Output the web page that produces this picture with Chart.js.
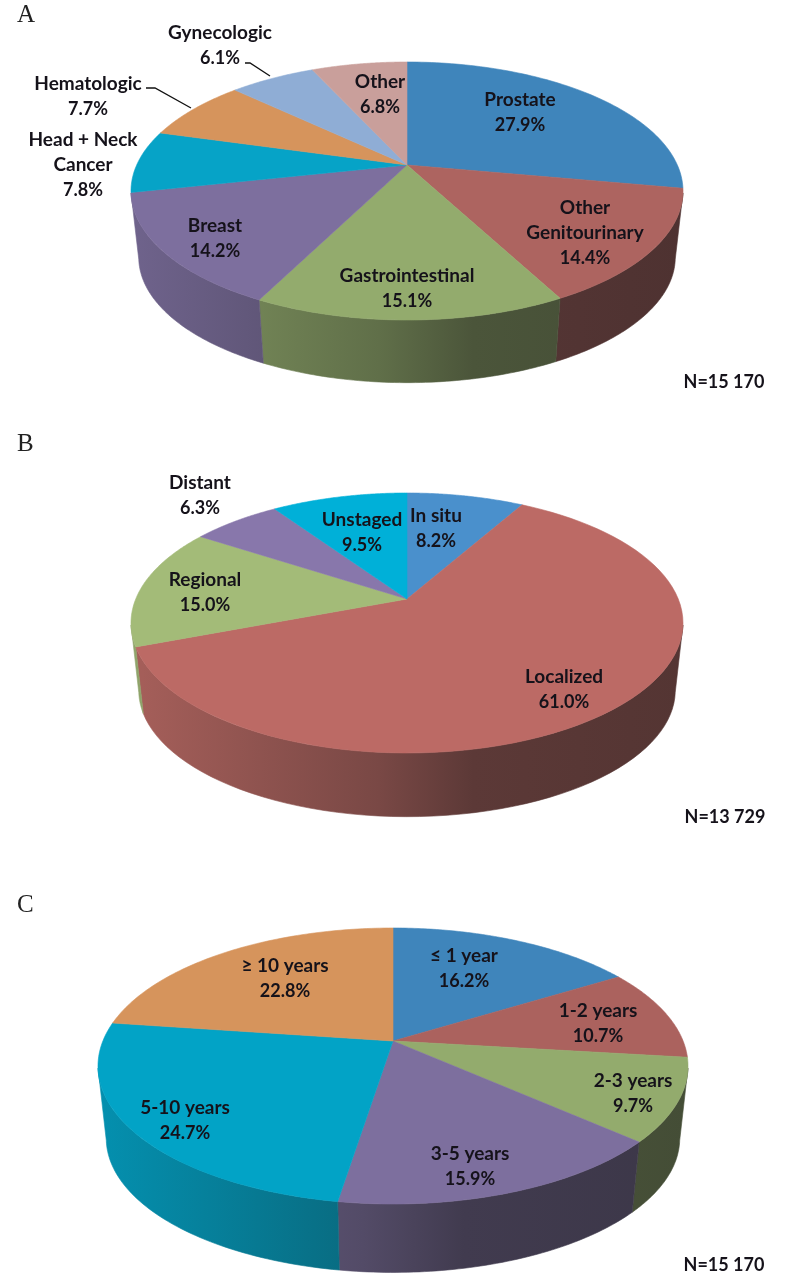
<!DOCTYPE html>
<html>
<head>
<meta charset="utf-8">
<title>Pie charts</title>
<script src="https://cdn.jsdelivr.net/npm/chart.js@4/dist/chart.umd.min.js"></script>
<style>
    html, body { margin: 0; padding: 0; background: #fff; }
    #wrap { position: relative; width: 787px; height: 1280px; overflow: hidden; }
    canvas { position: absolute; left: 0; }
</style>
</head>
<body>
<div id="wrap">
    <canvas id="chartA" width="787" height="420" style="top:0"></canvas>
    <canvas id="chartB" width="787" height="440" style="top:420px"></canvas>
    <canvas id="chartC" width="787" height="420" style="top:860px"></canvas>
</div>
<script>
// panel A: cancer site
const siteLabels = ['Prostate', 'Other\nGenitourinary', 'Gastrointestinal', 'Breast', 'Head + Neck\nCancer', 'Hematologic', 'Gynecologic', 'Other']
const siteValues = [27.9, 14.4, 15.1, 14.2, 7.8, 7.7, 6.1, 6.8]
const siteColors = ['#3f85bb', '#ad6460', '#93ab6d', '#7d6f9e', '#06a3c7', '#d6945c', '#8fadd5', '#c99f9b']

// panel B: stage
const stageLabels = ['In situ', 'Localized', 'Regional', 'Distant', 'Unstaged']
const stageValues = [8.2, 61.0, 15.0, 6.3, 9.5]
const stageColors = ['#4a90cc', '#bc6a65', '#a3bb78', '#8877ab', '#00b0d8']

// panel C: time since diagnosis
const timeLabels = ['≤ 1 year', '1-2 years', '2-3 years', '3-5 years', '5-10 years', '≥ 10 years']
const timeValues = [16.2, 10.7, 9.7, 15.9, 24.7, 22.8]
const timeColors = ['#3f85bb', '#ab625e', '#93ab6d', '#7d6f9e', '#02a3c6', '#d6945c']

const NAME_FONT = 'bold 19px Lato'
const NUM_FONT = 'bold 18px Lato'
const LINE = 25

// x,y (page coordinates) of the first text line of each label
const siteLabelPos = [[520, 100], [585, 208], [407, 276], [215, 226], [83, 140], [88, 84], [220, 33], [380, 82]]
const stageLabelPos = [[436, 516], [564, 677], [205, 580], [200, 483], [362, 520]]
const timeLabelPos = [[464, 956], [598, 1011], [633, 1081], [470, 1154], [185, 1108], [285, 966]]

// the pie lies on a tilted plane, so the circle maps to an ellipse with the centre off middle
function makeGeo(cx, cy, rx, up, down, depth, shrink) {
    const p = (up - down) / (up + down)
    return {
        cx: cx, cy: cy, p: p,
        a: rx * Math.sqrt(1 - p * p),
        b: up * (1 - p),
        rx: rx, depth: depth, shrink: shrink,
        t0: Math.asin(-p) + 0.015
    }
}

function topPoint(g, t) {
    const w = 1 + g.p * Math.sin(t)
    return [g.cx + g.a * Math.cos(t) / w, g.cy + g.b * Math.sin(t) / w]
}

function bottomPoint(g, t) {
    const w = 1 + g.p * Math.sin(t)
    return [g.cx + g.shrink * g.a * Math.cos(t) / w, g.cy + g.depth + g.shrink * g.b * Math.sin(t) / w]
}

function shade(hex, f) {
    const n = parseInt(hex.slice(1), 16)
    const c = [n >> 16, (n >> 8) & 255, n & 255].map(v => Math.round(v * f + 20 * (1 - f)))
    return 'rgb(' + c.join(',') + ')'
}

const tiltedPie = {
    id: 'tiltedPie',
    beforeDatasetDraw(chart, args, opts) {
        const ctx = chart.ctx
        const g = opts.geo
        const arcs = chart.getDatasetMeta(0).data
        const colors = chart.data.datasets[0].backgroundColor
        ctx.save()
        ctx.translate(0, -opts.top)

        // side wall, only the part that faces the viewer
        arcs.forEach(function (arc, i) {
            const s = Math.max(arc.startAngle, g.t0)
            const e = Math.min(arc.endAngle, Math.PI - g.t0)
            if (e <= s) return
            const grad = ctx.createLinearGradient(g.cx - g.rx, 0, g.cx + g.rx, 0)
            grad.addColorStop(0, shade(colors[i], 0.87))
            grad.addColorStop(0.45, shade(colors[i], 0.6))
            grad.addColorStop(0.62, shade(colors[i], 0.43))
            grad.addColorStop(1, shade(colors[i], 0.38))
            ctx.beginPath()
            for (let k = 0; k <= 60; k++) {
                const q = topPoint(g, s + (e - s) * k / 60)
                ctx.lineTo(q[0], q[1])
            }
            for (let k = 60; k >= 0; k--) {
                const q = bottomPoint(g, s + (e - s) * k / 60)
                ctx.lineTo(q[0], q[1])
            }
            ctx.closePath()
            ctx.fillStyle = grad
            ctx.strokeStyle = grad
            ctx.lineWidth = 0.6
            ctx.fill()
            ctx.stroke()
        })

        // top face
        arcs.forEach(function (arc, i) {
            const s = arc.startAngle
            const e = arc.endAngle
            ctx.beginPath()
            ctx.moveTo(g.cx, g.cy)
            for (let k = 0; k <= 80; k++) {
                const q = topPoint(g, s + (e - s) * k / 80)
                ctx.lineTo(q[0], q[1])
            }
            ctx.closePath()
            ctx.fillStyle = colors[i]
            ctx.strokeStyle = colors[i]
            ctx.lineWidth = 0.6
            ctx.fill()
            ctx.stroke()
        })
        ctx.restore()
        return false
    },
    afterDraw(chart, args, opts) {
        const ctx = chart.ctx
        const values = chart.data.datasets[0].data
        ctx.save()
        ctx.translate(0, -opts.top)
        ctx.textAlign = 'center'
        ctx.textBaseline = 'middle'
        ctx.fillStyle = '#15121a'
        chart.data.labels.forEach(function (label, i) {
            const lines = label.split('\n')
            ctx.font = NAME_FONT
            lines.forEach(function (line, j) {
                ctx.fillText(line, opts.labelPos[i][0], opts.labelPos[i][1] + j * LINE)
            })
            ctx.font = NUM_FONT
            ctx.fillText(values[i].toFixed(1) + '%', opts.labelPos[i][0], opts.labelPos[i][1] + lines.length * LINE)
        })
        ctx.fillText(opts.total, opts.totalPos[0], opts.totalPos[1])

        ;(opts.leaders || []).forEach(function (pts) {
            ctx.beginPath()
            pts.forEach(q => ctx.lineTo(q[0], q[1]))
            ctx.strokeStyle = '#111'
            ctx.lineWidth = 1.3
            ctx.stroke()
        })

        ctx.textAlign = 'left'
        ctx.textBaseline = 'alphabetic'
        ctx.font = '25px "Liberation Serif"'
        ctx.fillStyle = '#222'
        ctx.fillText(opts.letter, opts.letterPos[0], opts.letterPos[1])
        ctx.restore()
    }
}

function pieChart(id, labels, values, colors, panel) {
    const data = {
        labels: labels,
        datasets: [{ data: values, backgroundColor: colors, borderWidth: 0 }]
    }
    const config = {
        type: 'pie',
        data: data,
        plugins: [tiltedPie],
        options: {
            responsive: false,
            animation: false,
            events: [],
            plugins: {
                legend: { display: false },
                tooltip: { enabled: false },
                tiltedPie: panel
            }
        }
    }
    return new Chart(document.getElementById(id).getContext('2d'), config)
}

pieChart('chartA', siteLabels, siteValues, siteColors, {
    top: 0,
    geo: makeGeo(407, 165, 276, 103, 155, 67, 0.972),
    labelPos: siteLabelPos,
    total: 'N=15 170', totalPos: [724, 382],
    letter: 'A', letterPos: [17, 22],
    leaders: [
        [[245, 63], [250, 63], [270, 76]],
        [[146, 88], [155, 88], [191, 108]]
    ]
})

pieChart('chartB', stageLabels, stageValues, stageColors, {
    top: 420,
    geo: makeGeo(407, 599, 276, 106, 154, 68, 0.972),
    labelPos: stageLabelPos,
    total: 'N=13 729', totalPos: [725, 817],
    letter: 'B', letterPos: [17, 451]
})

pieChart('chartC', timeLabels, timeValues, timeColors, {
    top: 860,
    geo: makeGeo(393, 1041, 295, 113, 163, 73, 0.972),
    labelPos: timeLabelPos,
    total: 'N=15 170', totalPos: [724, 1265],
    letter: 'C', letterPos: [17, 912]
})
</script>
</body>
</html>
